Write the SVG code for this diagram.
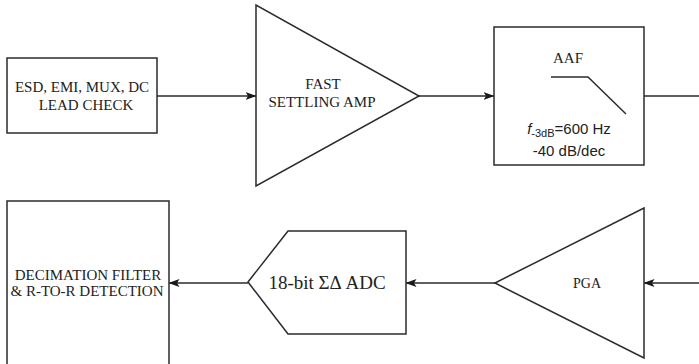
<svg xmlns="http://www.w3.org/2000/svg" width="699" height="364" viewBox="0 0 699 364">
<style>
.s{fill:#fff;stroke:#2b2b2b;stroke-width:1.5}
.c{fill:none;stroke:#2b2b2b;stroke-width:1.5}
.t{font-family:"Liberation Serif","Times New Roman",serif;font-size:15px;fill:#222;text-anchor:middle}
.a{font-family:"Liberation Sans",Arial,sans-serif;font-size:15px;fill:#222;text-anchor:middle}
</style>
<defs>
<marker id="ar" viewBox="0 0 11 8" refX="10.5" refY="4" markerWidth="11" markerHeight="8" markerUnits="userSpaceOnUse" orient="auto">
<path d="M0,0 L11,4 L0,8 L2.5,4 Z" fill="#1a1a1a"/>
</marker>
</defs>
<rect width="699" height="364" fill="#fff"/>
<g id="connectors">
<line class="c" x1="157" y1="96" x2="256" y2="96" marker-end="url(#ar)"/>
<line class="c" x1="419" y1="96" x2="494" y2="96" marker-end="url(#ar)"/>
<line class="c" x1="644" y1="96" x2="699" y2="96"/>
<line class="c" x1="699" y1="283" x2="644" y2="283" marker-end="url(#ar)"/>
<line class="c" x1="495" y1="283" x2="406" y2="283" marker-end="url(#ar)"/>
<line class="c" x1="248" y1="283" x2="169" y2="283" marker-end="url(#ar)"/>
</g>
<g id="lead">
<rect class="s" x="7" y="58" width="150" height="75"/>
<text class="t" x="82" y="92">ESD, EMI, MUX, DC</text>
<text class="t" x="86" y="110">LEAD CHECK</text>
</g>
<g id="amp">
<polygon class="s" points="256,5 256,186 419,96"/>
<text class="t" x="323" y="89">FAST</text>
<text class="t" x="322" y="107">SETTLING AMP</text>
</g>
<g id="aaf">
<rect class="s" x="494" y="27" width="150" height="138"/>
<text class="t" x="568" y="63">AAF</text>
<polyline class="c" points="551,77 588,77 626,114"/>
<text class="a" x="569" y="134"><tspan font-style="italic">f</tspan><tspan font-size="11" dy="3">-3dB</tspan><tspan dy="-3">=600 Hz</tspan></text>
<text class="a" x="569" y="156">-40 dB/dec</text>
</g>
<g id="pga">
<polygon class="s" points="644,208 644,358 495,283"/>
<text class="t" x="587" y="288" style="font-size:14px">PGA</text>
</g>
<g id="adc">
<polygon class="s" points="248,282 288,231 406,231 406,334 288,334"/>
<text class="t" x="327" y="289" style="font-size:19px">18-bit ΣΔ ADC</text>
</g>
<g id="decimation">
<rect class="s" x="7" y="201" width="162" height="170"/>
<text class="t" x="88" y="280">DECIMATION FILTER</text>
<text class="t" x="87" y="296">&amp; R-TO-R DETECTION</text>
</g>
</svg>
